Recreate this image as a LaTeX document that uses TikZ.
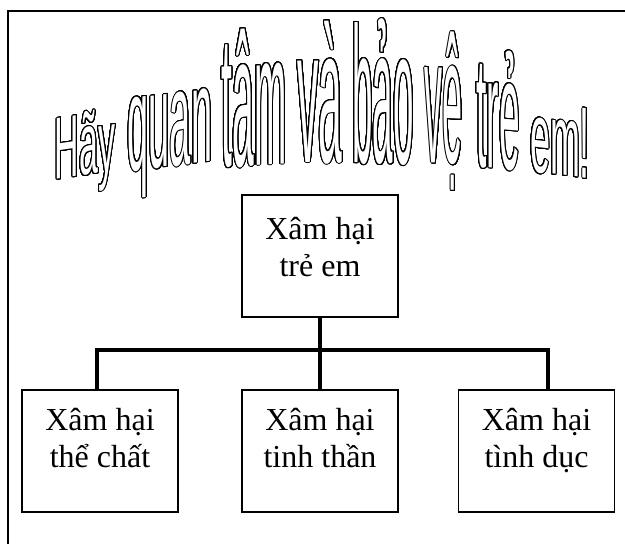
\documentclass[tikz,border=0pt]{standalone}
\usepackage{fontspec}
\usepackage[copies]{contour}
\setmainfont{Liberation Serif}
\newfontfamily\arcfont{Liberation Sans}
\contourlength{0.75pt}
\contournumber{32}

% one hollow word of the arched title: size, narrowing, text
\newcommand{\arcword}[3]{{\arcfont\fontsize{#1}{#1}\addfontfeatures{FakeStretch=#2}\color{white}\contour{black}{#3}}}

\tikzset{every picture/.style={line width=0.75pt}}
\tikzset{
	kindbox/.style={draw, line width=1.2pt, minimum width=117pt, minimum height=91.5pt, inner sep=0pt},
	kindtext/.style={align=center, inner sep=0pt, font=\fontsize{24}{27.75}\selectfont, execute at end node=\strut},
	branch/.style={line width=3pt},
	arcnode/.style={anchor=base, inner sep=0pt}}

\begin{document}
\begin{tikzpicture}[x=0.75pt,y=0.75pt,yscale=-1,xscale=1]
	\useasboundingbox (0,0) rectangle (625,543);
	\clip (0,0) rectangle (625,543);

	%Frame
	\draw  [line width=1.2pt]  (8,11) -- (640,11) -- (640,560) -- (8,560) -- cycle ;

	% Text Node
	\node (hay) [arcnode, yslant=0.15] at (85,175) {\arcword{66}{0.385}{Hãy}};
	% Text Node
	\node (quan) [arcnode, yslant=0.12] at (170,166) {\arcword{102}{0.279}{quan}};
	% Text Node
	\node (tam) [arcnode, yslant=0.05] at (254,165) {\arcword{141}{0.207}{tâm}};
	% Text Node
	\node (va) [arcnode] at (320,162) {\arcword{144}{0.222}{và}};
	% Text Node
	\node (bao) [arcnode, yslant=-0.02] at (383,163) {\arcword{145}{0.19}{bảo}};
	% Text Node
	\node (ve) [arcnode, yslant=-0.04] at (444,163) {\arcword{135}{0.2}{vệ}};
	% Text Node
	\node (tre) [arcnode, yslant=-0.08] at (498,168) {\arcword{119}{0.234}{trẻ}};
	% Text Node
	\node (em) [arcnode, yslant=-0.12] at (560,175) {\arcword{76}{0.355}{em!}};

	% Text Node
	\node (xamhai) [kindbox, label={[kindtext, yshift=2.5pt]center:{Xâm hại\\trẻ em}}] at (320,256) {};
	% Text Node
	\node (thechat) [kindbox, label={[kindtext, yshift=6pt]center:{Xâm hại\\thể chất}}] at (100,451) {};
	% Text Node
	\node (tinhthan) [kindbox, label={[kindtext, yshift=6pt]center:{Xâm hại\\tinh thần}}] at (320,451) {};
	% Text Node
	\node (tinhduc) [kindbox, label={[kindtext, yshift=6pt]center:{Xâm hại\\tình dục}}] at (536.5,451) {};

	%Tree
	\coordinate (hub) at (320,350);
	\draw [branch] (xamhai) -- (hub);
	\draw [branch] (hub) -| ([xshift=-2.6pt]thechat.north);
	\draw [branch] (hub) -- (tinhthan);
	\draw [branch] (hub) -| ([xshift=8.6pt]tinhduc.north);

\end{tikzpicture}
\end{document}
